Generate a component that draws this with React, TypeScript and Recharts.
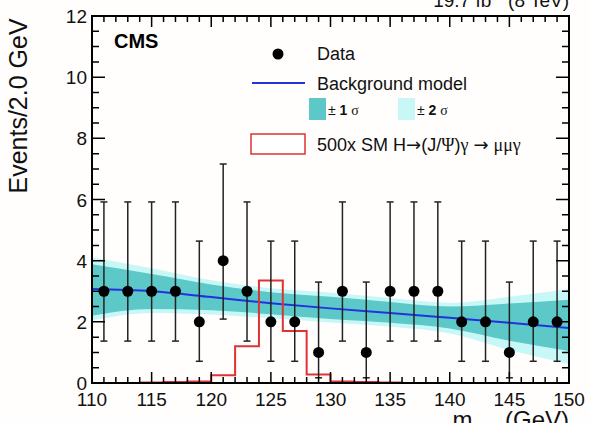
import { ComposedChart, XAxis, YAxis, Area, Line, Scatter, ErrorBar } from "recharts";

// Observed events per 2 GeV bin (bin centres)
const massBins = [111, 113, 115, 117, 119, 121, 123, 125, 127, 129, 131, 133, 135, 137, 139, 141, 143, 145, 147, 149];
const eventCounts = [3, 3, 3, 3, 2, 4, 3, 2, 2, 1, 3, 1, 3, 3, 3, 2, 2, 1, 2, 2];

// 68% Poisson interval ends for each observed count
const poissonLow: Record<number, number> = { 1: 0.17, 2: 0.71, 3: 1.37, 4: 2.09 };
const poissonHigh: Record<number, number> = { 1: 3.3, 2: 4.64, 3: 5.92, 4: 7.16 };

// Background fit and its uncertainty bands
const bandMass = [110, 115, 120, 125, 130, 135, 140, 145, 150];
const bkgModel = [3.07, 3.0, 2.81, 2.61, 2.44, 2.29, 2.13, 1.97, 1.8];
const oneSigmaLow = [2.2, 2.42, 2.38, 2.25, 2.09, 1.97, 1.78, 1.38, 1.05];
const oneSigmaHigh = [3.88, 3.56, 3.22, 2.97, 2.82, 2.65, 2.5, 2.6, 2.72];
const twoSigmaLow = [2.05, 2.29, 2.24, 2.12, 1.98, 1.84, 1.62, 1.08, 0.62];
const twoSigmaHigh = [4.1, 3.75, 3.36, 3.1, 2.96, 2.78, 2.62, 2.82, 3.07];

// 500x SM signal, lower bin edges (null = empty bin)
const signalEdges = [110, 112, 114, 116, 118, 120, 122, 124, 126, 128, 130, 132, 134, 136, 138, 140, 142, 144, 146, 148];
const signalYield = [null, null, 0.02, 0.03, 0.05, 0.25, 1.2, 3.35, 1.7, 0.28, 0.05, 0.03, 0.02, null, null, null, null, null, null, null];
const binWidth = 2;

const X_MIN = 110;
const X_MAX = 150;
const Y_MIN = 0;
const Y_MAX = 12;

const xMajor = [110, 115, 120, 125, 130, 135, 140, 145, 150];
const yMajor = [0, 2, 4, 6, 8, 10, 12];

const xTicks: number[] = [];
for (let v = X_MIN; v <= X_MAX; v += 1) xTicks.push(v);
const yTicks: number[] = [];
for (let v = Y_MIN; v <= Y_MAX; v += 0.5) yTicks.push(v);

// chart box
const W = 590;
const H = 423;
const margin = { top: 16, right: 21, bottom: 0, left: 0 };
const yAxisWidth = 92;
const xAxisHeight = 40;
const plotLeft = margin.left + yAxisWidth;
const plotRight = W - margin.right;
const plotTop = margin.top;
const plotBottom = H - margin.bottom - xAxisHeight;

const FONT = "'Liberation Sans', Arial, Helvetica, sans-serif";
const GREEK = "'Liberation Serif', 'DejaVu Serif', serif";
const ARROW = "'DejaVu Sans', sans-serif";
const BLUE = "#2233dd";
const TEAL = "#5cc8c8";
const LIGHT = "#c8f7f7";
const RED = "#dd3333";

const pointData = massBins.map((x, i) => {
  const n = eventCounts[i];
  return { x, y: n, err: [n - poissonLow[n], poissonHigh[n] - n] };
});

const bandData = bandMass.map((x, i) => ({
  x,
  bkg: bkgModel[i],
  s1: [oneSigmaLow[i], oneSigmaHigh[i]],
  s2: [twoSigmaLow[i], twoSigmaHigh[i]],
}));

// step outline: each filled bin contributes its left and right edge
const signalData = signalEdges.flatMap((lo, i) =>
  signalYield[i] == null ? [] : [{ x: lo, sig: signalYield[i] }, { x: lo + binWidth, sig: signalYield[i] }]
);

const px = (v: number) => plotLeft + ((v - X_MIN) / (X_MAX - X_MIN)) * (plotRight - plotLeft);
const py = (v: number) => plotBottom - ((v - Y_MIN) / (Y_MAX - Y_MIN)) * (plotBottom - plotTop);

const BottomLabel = (props: any) => (
  <text x={Number(props.x)} y={Number(props.y) + 23} textAnchor="middle" fontSize={19} fontFamily={FONT} fill="#111">
    {props.payload.value}
  </text>
);

const LeftLabel = (props: any) => (
  <text x={Number(props.x) - 5} y={Number(props.y) + 7} textAnchor="end" fontSize={19} fontFamily={FONT} fill="#111">
    {props.payload.value}
  </text>
);

const DataDot = (props: any) => <circle cx={props.cx} cy={props.cy} r={5.5} fill="#000" />;

const frameLine = { stroke: "#000", strokeWidth: 2 };

export default function App() {
  // ROOT-style frame ticks on all four sides, pointing into the plot
  const tickPaths: string[] = [];
  xTicks.forEach((v) => {
    const len = xMajor.includes(v) ? 11 : 6;
    const x = px(v);
    tickPaths.push(`M${x},${plotBottom}V${plotBottom - len}`);
    tickPaths.push(`M${x},${plotTop}V${plotTop + len}`);
  });
  yTicks.forEach((v) => {
    const len = yMajor.includes(v) ? 13 : 7;
    const y = py(v);
    tickPaths.push(`M${plotLeft},${y}H${plotLeft + len}`);
    tickPaths.push(`M${plotRight},${y}H${plotRight - len}`);
  });

  return (
    <div style={{ position: "absolute", left: 0, top: 0, width: W, height: H, background: "#fffefc", fontFamily: FONT }}>
      <ComposedChart width={W} height={H} margin={margin}>
        <XAxis
          dataKey="x"
          type="number"
          domain={[X_MIN, X_MAX]}
          allowDataOverflow
          ticks={xMajor}
          interval={0}
          height={xAxisHeight}
          tickSize={0}
          tickMargin={0}
          tickLine={false}
          axisLine={frameLine}
          tick={BottomLabel}
        />
        <YAxis
          type="number"
          domain={[Y_MIN, Y_MAX]}
          allowDataOverflow
          ticks={yMajor}
          interval={0}
          width={yAxisWidth}
          tickSize={0}
          tickMargin={0}
          tickLine={false}
          axisLine={frameLine}
          tick={LeftLabel}
        />

        <Area data={bandData} dataKey="s2" type="monotone" fill={LIGHT} fillOpacity={1} stroke="none" isAnimationActive={false} />
        <Area data={bandData} dataKey="s1" type="monotone" fill={TEAL} fillOpacity={1} stroke="none" isAnimationActive={false} />
        <Line data={bandData} dataKey="bkg" type="monotone" stroke={BLUE} strokeWidth={2} dot={false} isAnimationActive={false} />
        <Line data={signalData} dataKey="sig" type="linear" stroke={RED} strokeWidth={2} dot={false} isAnimationActive={false} />
        <Scatter data={pointData} dataKey="y" shape={DataDot} isAnimationActive={false}>
          <ErrorBar dataKey="err" direction="y" width={3.5} stroke="#222" strokeWidth={1.5} isAnimationActive={false} />
        </Scatter>
      </ComposedChart>

      <svg width={W} height={H} style={{ position: "absolute", left: 0, top: 0, pointerEvents: "none" }} fontFamily={FONT}>
        <path d={tickPaths.join("")} stroke="#000" strokeWidth={1.5} fill="none" />
        <rect x={plotLeft} y={plotTop} width={plotRight - plotLeft} height={plotBottom - plotTop} fill="none" stroke="#000" strokeWidth={2} />

        <text x={569} y={7} textAnchor="end" fontSize={19} fill="#111">
          19.7 fb<tspan dy={-7} fontSize={13}>-1</tspan>
          <tspan dy={7}> (8 TeV)</tspan>
        </text>
        <text x={114} y={48} fontSize={20} fontWeight="bold" fill="#000">CMS</text>
        <text transform="translate(27,106) rotate(-90)" textAnchor="middle" fontSize={25} fill="#111">
          Events/2.0 GeV
        </text>
        <text x={569} y={428} textAnchor="end" fontSize={24} fill="#111">
          m<tspan dy={6} fontSize={17} fontFamily={GREEK}>μμγ</tspan>
          <tspan dy={-6}> (GeV)</tspan>
        </text>

        {/* legend */}
        <circle cx={278} cy={54} r={5.5} fill="#000" />
        <text x={317} y={60} fontSize={18} fill="#111">Data</text>
        <line x1={252} y1={83} x2={305} y2={83} stroke={BLUE} strokeWidth={2} />
        <text x={317} y={90} fontSize={18} fill="#111">Background model</text>
        <rect x={309} y={98} width={17} height={22} fill={TEAL} />
        <text x={328} y={115} fontSize={14} fill="#111">
          ± <tspan fontWeight="bold">1</tspan> <tspan fontFamily={GREEK}>σ</tspan>
        </text>
        <rect x={398} y={98} width={17} height={22} fill={LIGHT} />
        <text x={417} y={115} fontSize={14} fill="#111">
          ± <tspan fontWeight="bold">2</tspan> <tspan fontFamily={GREEK}>σ</tspan>
        </text>
        <rect x={251} y={134} width={54} height={20} fill="#fff" stroke={RED} strokeWidth={1.5} />
        <text x={317} y={151} fontSize={18} fill="#111">
          500x SM H<tspan fontFamily={ARROW}>→</tspan>(J/<tspan fontFamily={GREEK}>Ψ</tspan>)
          <tspan fontFamily={GREEK}>γ</tspan> <tspan fontFamily={ARROW}>→</tspan> <tspan fontFamily={GREEK}>μμγ</tspan>
        </text>
      </svg>
    </div>
  );
}
